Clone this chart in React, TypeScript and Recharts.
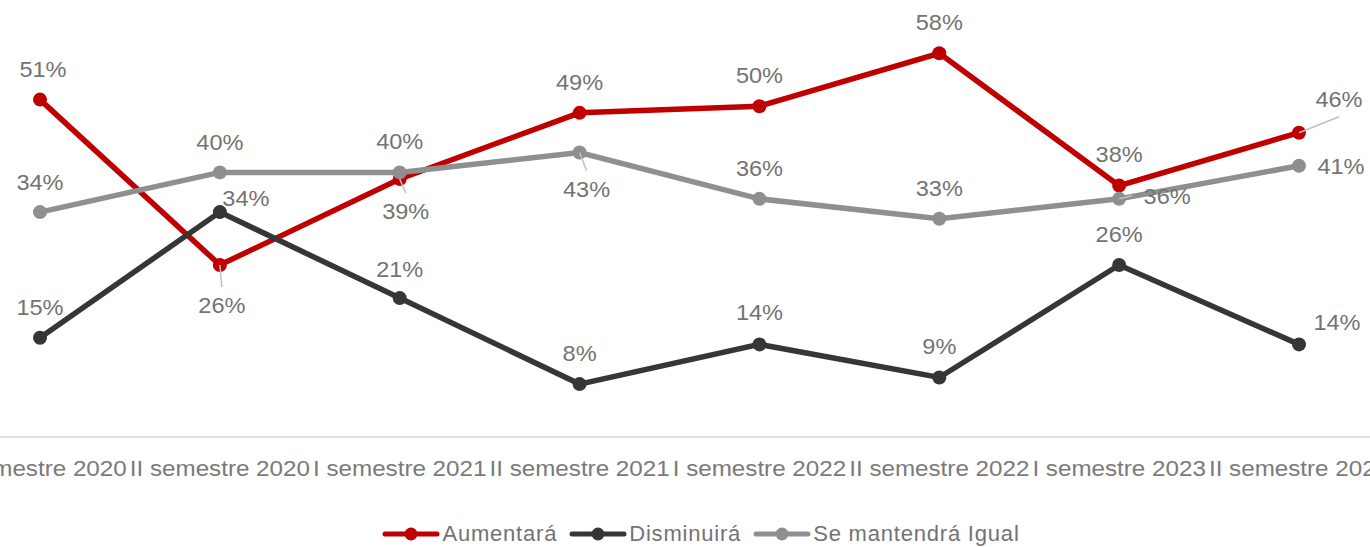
import { LabelList, Legend, Line, LineChart, XAxis, YAxis } from "recharts"

const categories = [
  "I semestre 2020",
  "II semestre 2020",
  "I semestre 2021",
  "II semestre 2021",
  "I semestre 2022",
  "II semestre 2022",
  "I semestre 2023",
  "II semestre 2023",
]
const aumentara = [51, 26, 39, 49, 50, 58, 38, 46]
const disminuira = [15, 34, 21, 8, 14, 9, 26, 14]
const seMantendra = [34, 40, 40, 43, 36, 33, 36, 41]

const data = categories.map((cat, i) => ({
  cat,
  aumentara: aumentara[i],
  disminuira: disminuira[i],
  igual: seMantendra[i],
}))

// label placement relative to each point (dx, dy of text centre), plus leader lines
const labelOffsets: Record<string, [number, number][]> = {
  aumentara: [[3, -31], [2, 40], [6, 32], [0, -31], [0, -31], [0, -31], [0, -32], [40, -34]],
  disminuira: [[0, -31], [26, -14], [0, -29], [0, -31], [0, -32], [0, -31], [0, -31], [38, -22]],
  igual: [[0, -30], [0, -30], [0, -31], [7, 36], [0, -31], [0, -31], [48, -3], [42, 0]],
}
const leaders: Record<string, number[]> = {
  aumentara: [1, 2, 7],
  disminuira: [],
  igual: [3, 6],
}

const series = [
  { key: "aumentara", name: "Aumentará", color: "#C00000" },
  { key: "disminuira", name: "Disminuirá", color: "#363636" },
  { key: "igual", name: "Se mantendrá Igual", color: "#8F8F8F" },
]

const FONT = "'Liberation Sans', Arial, sans-serif"
const TEXT = "#737373"

function makeLabel(key: string) {
  return (props: any) => {
    const { x, y, value, index } = props
    const [dx, dy] = labelOffsets[key][index] ?? [0, -31]
    const cx = x + dx
    const cy = y + dy
    let leader = null
    if (leaders[key].includes(index)) {
      const hw = 25
      const hh = 8
      const gap = 10
      let ex = cx
      let ey = cy
      if (Math.abs(dy) > 15) {
        ey = dy > 0 ? cy - hh - gap : cy + hh + gap
      } else {
        ex = dx > 0 ? cx - hw - gap : cx + hw + gap
      }
      leader = <line x1={x} y1={y} x2={ex} y2={ey} stroke="#BFBFBF" strokeWidth={1.5} />
    }
    return (
      <g>
        {leader}
        <text
          transform={`translate(${cx},${cy + 8}) scale(1.07,1)`}
          textAnchor="middle"
          fontSize={22}
          fontFamily={FONT}
          fill={TEXT}
        >
          {value}%
        </text>
      </g>
    )
  }
}

function Tick({ x, y, payload }: any) {
  return (
    <text
      transform={`translate(${x},${y + 39}) scale(1.1,1)`}
      textAnchor="middle"
      fontSize={22}
      fontFamily={FONT}
      fill="#7A7A7A"
    >
      {payload.value}
    </text>
  )
}

function LegendContent() {
  return (
    <div
      style={{
        display: "flex",
        justifyContent: "center",
        alignItems: "center",
        height: 37,
        paddingTop: 10,
        paddingLeft: 32,
        boxSizing: "border-box",
        fontFamily: FONT,
        fontSize: 22,
        letterSpacing: "0.8px",
        color: TEXT,
        gap: 12,
      }}
    >
      {series.map((s) => (
        <div key={s.key} style={{ display: "flex", alignItems: "center" }}>
          <svg width={58} height={16} style={{ marginRight: 2 }}>
            <line x1={3} y1={8} x2={55} y2={8} stroke={s.color} strokeWidth={5} strokeLinecap="round" />
            <circle cx={29} cy={8} r={6.5} fill={s.color} />
          </svg>
          <span>{s.name}</span>
        </div>
      ))}
    </div>
  )
}

export default function App() {
  return (
    <div style={{ position: "absolute", left: 0, top: 0, background: "#fff" }}>
      <LineChart
        width={1370}
        height={547}
        data={data}
        margin={{ top: 7, right: 0, left: 0, bottom: 0 }}
      >
        <XAxis
          dataKey="cat"
          interval={0}
          padding={{ left: 40, right: 71 }}
          tickLine={false}
          tickSize={0}
          tickMargin={0}
          axisLine={{ stroke: "#D9D9D9", strokeWidth: 1.5 }}
          tick={<Tick />}
          height={73}
        />
        <YAxis hide domain={[0, 65]} />
        <Legend verticalAlign="bottom" height={37} content={<LegendContent />} />
        {series.map((s) => (
          <Line
            key={s.key}
            dataKey={s.key}
            name={s.name}
            stroke={s.color}
            strokeWidth={5.5}
            dot={{ r: 7, fill: s.color, stroke: s.color, strokeWidth: 0 }}
            activeDot={false}
            isAnimationActive={false}
          >
            <LabelList dataKey={s.key} content={makeLabel(s.key)} />
          </Line>
        ))}
      </LineChart>
    </div>
  )
}
